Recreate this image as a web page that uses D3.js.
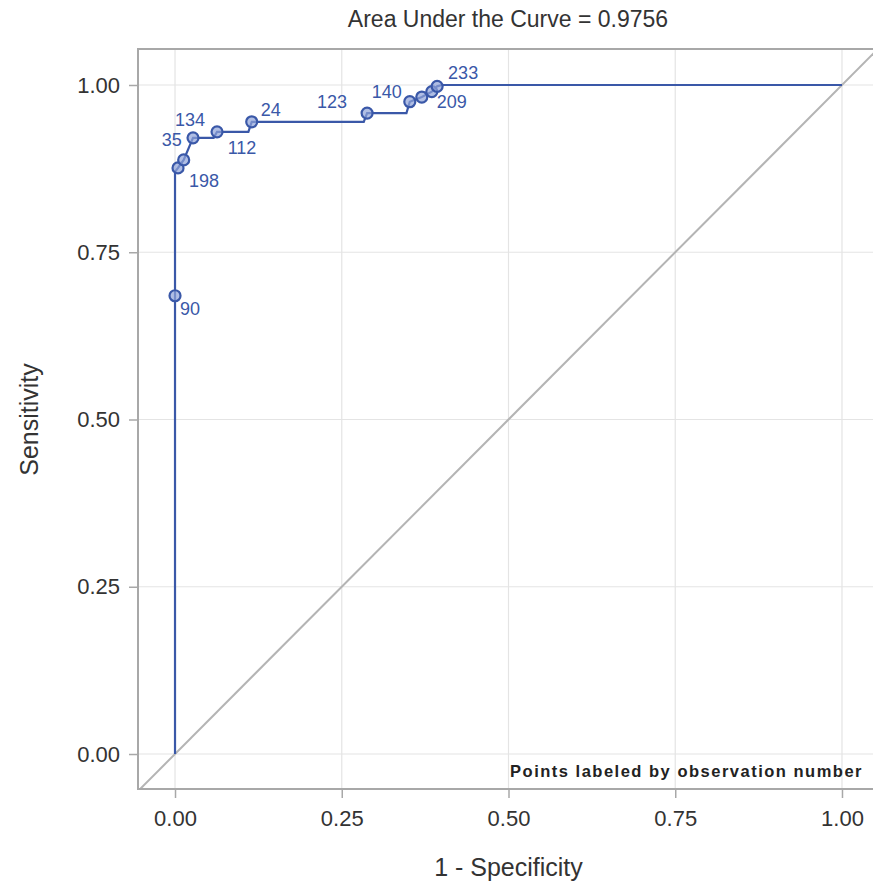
<!DOCTYPE html>
<html>
<head>
<meta charset="utf-8">
<script src="https://cdn.jsdelivr.net/npm/d3@7"></script>
<style>
  html, body { margin: 0; padding: 0; background: #fff; }
  svg { display: block; }
</style>
</head>
<body>
<svg id="chart" width="873" height="886"></svg>
<script>
// ---- data ----
const titleText = "Area Under the Curve = 0.9756";
const xTicks = [0, 0.25, 0.5, 0.75, 1.0];
const yTicks = [0, 0.25, 0.5, 0.75, 1.0];
// ROC step path vertices
const curveX = [0, 0, 0, 0.0045, 0.013, 0.027, 0.058, 0.063, 0.110, 0.115, 0.283, 0.288, 0.347, 0.352, 0.370, 0.385, 0.393, 0.400, 1.0];
const curveY = [0, 0.685, 0.870, 0.876, 0.888, 0.921, 0.921, 0.930, 0.930, 0.945, 0.945, 0.958, 0.958, 0.975, 0.982, 0.990, 0.998, 1.0, 1.0];
// marked points and observation labels
const markX = [0, 0.0045, 0.013, 0.027, 0.063, 0.115, 0.288, 0.352, 0.370, 0.385, 0.393];
const markY = [0.685, 0.876, 0.888, 0.921, 0.930, 0.945, 0.958, 0.975, 0.982, 0.990, 0.998];
const markLabels = ["90", "198", "35", "134", "112", "24", "123", "140", "", "209", "233"];

// ---- layout ----
const svg = d3.select("#chart");
const L = 138, R = 878, T = 49, B = 789;
const x = d3.scaleLinear().domain([-0.0555, 1.054]).range([L, R]);
const y = d3.scaleLinear().domain([-0.0523, 1.0538]).range([B, T]);
const blue = "#3a58a8";
const font = "'Liberation Sans', Arial, sans-serif";
// label placement offsets (px) for each mark label
const labelOffsets = [[15, 13], [26, 13], [-12, -20], [-3, -18], [25, 16], [19, -12], [-35, -11], [-23, -10], [0, 0], [20, 10], [26, -13]];

svg.append("defs").append("clipPath").attr("id", "clip")
  .append("rect").attr("x", L).attr("y", T).attr("width", R - L).attr("height", B - T);

// gridlines
const grid = svg.append("g");
grid.selectAll("line.gx").data(xTicks).join("line")
  .attr("x1", d => x(d)).attr("x2", d => x(d)).attr("y1", T).attr("y2", B)
  .attr("stroke", "#e4e4e4").attr("stroke-width", 1.2);
grid.selectAll("line.gy").data(yTicks).join("line")
  .attr("y1", d => y(d)).attr("y2", d => y(d)).attr("x1", L).attr("x2", R)
  .attr("stroke", "#e4e4e4").attr("stroke-width", 1.2);

// diagonal reference
svg.append("line")
  .attr("x1", x(-0.1)).attr("y1", y(-0.1)).attr("x2", x(1.1)).attr("y2", y(1.1))
  .attr("stroke", "#b4b4b4").attr("stroke-width", 2)
  .attr("clip-path", "url(#clip)");

// frame
svg.append("rect").attr("x", L).attr("y", T).attr("width", R - L).attr("height", B - T)
  .attr("fill", "none").attr("stroke", "#a8a8a8").attr("stroke-width", 2);

// axes
const xAxis = d3.axisBottom(x).tickValues(xTicks).tickFormat(d3.format(".2f")).tickSize(9).tickPadding(12);
const yAxis = d3.axisLeft(y).tickValues(yTicks).tickFormat(d3.format(".2f")).tickSize(9).tickPadding(9);
const gx = svg.append("g").attr("transform", `translate(0,${B})`).call(xAxis);
const gy = svg.append("g").attr("transform", `translate(${L},0)`).call(yAxis);
[gx, gy].forEach(g => {
  g.select(".domain").remove();
  g.selectAll(".tick line").attr("stroke", "#a8a8a8").attr("stroke-width", 1.5);
  g.selectAll(".tick text").attr("font-family", font).attr("font-size", 22).attr("fill", "#333");
});

// ROC curve
const pts = curveX.map((v, i) => [v, curveY[i]]);
svg.append("path")
  .attr("d", d3.line().x(d => x(d[0])).y(d => y(d[1]))(pts))
  .attr("fill", "none").attr("stroke", blue).attr("stroke-width", 2.2);

// markers
const marks = markX.map((v, i) => ({ x: v, y: markY[i], label: markLabels[i], off: labelOffsets[i] }));
svg.selectAll("circle.m").data(marks).join("circle")
  .attr("cx", d => x(d.x)).attr("cy", d => y(d.y)).attr("r", 5.5)
  .attr("fill", "#8ea2d8").attr("fill-opacity", 0.7)
  .attr("stroke", blue).attr("stroke-width", 2.2);
svg.selectAll("text.lbl").data(marks.filter(d => d.label)).join("text")
  .attr("x", d => x(d.x) + d.off[0]).attr("y", d => y(d.y) + d.off[1])
  .attr("text-anchor", "middle").attr("dominant-baseline", "central")
  .attr("font-family", font).attr("font-size", 18).attr("fill", blue)
  .text(d => d.label);

// footnote inside plot
svg.append("text").attr("x", 863).attr("y", 777)
  .attr("text-anchor", "end").attr("font-family", font).attr("font-weight", "bold")
  .attr("font-size", 16.5).attr("letter-spacing", 1.5).attr("fill", "#222")
  .text("Points labeled by observation number");

// title
svg.append("text").attr("x", (L + R) / 2).attr("y", 27)
  .attr("text-anchor", "middle").attr("font-family", font).attr("font-size", 23).attr("fill", "#333")
  .text(titleText);

// axis titles
svg.append("text").attr("x", x(0.5)).attr("y", 876)
  .attr("text-anchor", "middle").attr("font-family", font).attr("font-size", 25).attr("fill", "#333")
  .text("1 - Specificity");
svg.append("text").attr("transform", `translate(38,${y(0.5)}) rotate(-90)`)
  .attr("text-anchor", "middle").attr("font-family", font).attr("font-size", 25).attr("fill", "#333")
  .text("Sensitivity");
</script>
</body>
</html>
